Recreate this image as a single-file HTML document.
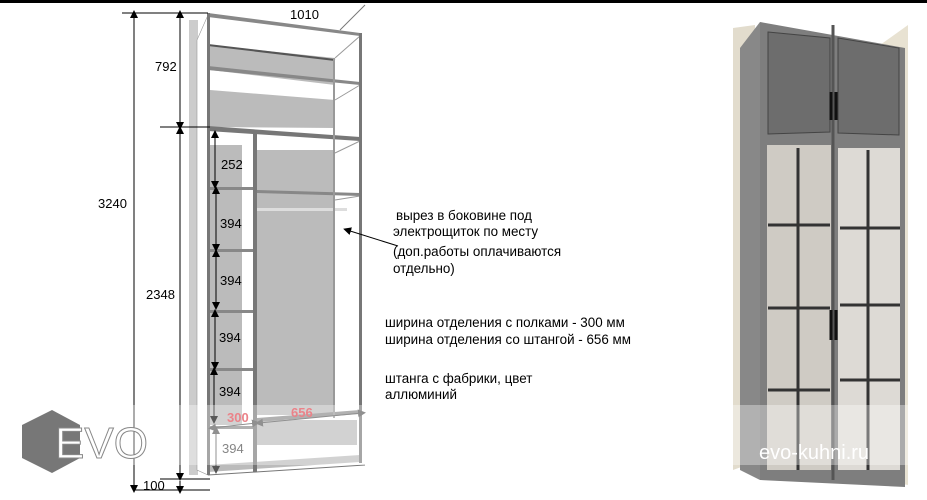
<!DOCTYPE html>
<html><head><meta charset="utf-8"><style>
html,body{margin:0;padding:0;background:#fff;}
svg{display:block;font-family:"Liberation Sans","DejaVu Sans",sans-serif;}
</style></head><body>
<svg width="927" height="500" viewBox="0 0 927 500" xmlns="http://www.w3.org/2000/svg">
<defs>
<marker id="a" markerWidth="8" markerHeight="8" refX="4" refY="4" orient="auto-start-reverse" markerUnits="userSpaceOnUse"><path d="M0,0 L8,4 L0,8 z" fill="#000"/></marker>
<marker id="ag" markerWidth="8" markerHeight="8" refX="4" refY="4" orient="auto-start-reverse" markerUnits="userSpaceOnUse"><path d="M0,0 L8,4 L0,8 z" fill="#555"/></marker>
</defs>
<rect x="0" y="0" width="927" height="3" fill="#000"/>
<!-- left wardrobe -->
<rect x="189" y="20" width="9" height="455" fill="#ccc"/>
<polygon points="197,40 208,15 208,475 197,470" fill="#fff" stroke="#999" stroke-width="0.6"/>
<polygon points="210,45 335,58 335,85 210,70" fill="#bbb"/>
<polygon points="210,90 335,100 335,128 210,127" fill="#bbb"/>
<rect x="210" y="145" width="32" height="280" fill="#bbb"/>
<rect x="257" y="150" width="77" height="265" fill="#bbb"/>
<rect x="257" y="420" width="100" height="25" fill="#bbb"/>
<polygon points="208,13 360,33 360,36 208,17" fill="#888"/>
<line x1="335" y1="58" x2="360" y2="36" stroke="#999"/>
<line x1="208" y1="45" x2="335" y2="60" stroke="#555" stroke-width="2"/>
<polygon points="208,66 360,82 360,85 208,70" fill="#888"/>
<line x1="335" y1="100" x2="360" y2="85" stroke="#999"/>
<polygon points="208,126 360,137 360,141 208,131" fill="#777"/>
<line x1="335" y1="153" x2="360" y2="141" stroke="#999"/>
<polygon points="257,190 360,193 360,196 257,193" fill="#888"/>
<line x1="335" y1="200" x2="360" y2="196" stroke="#999"/>
<rect x="257" y="208" width="90" height="3" fill="#ddd"/>
<g fill="#888">
<rect x="208" y="187" width="47" height="3"/>
<rect x="208" y="249" width="47" height="3"/>
<rect x="208" y="310" width="47" height="3"/>
<rect x="208" y="368" width="47" height="3"/>
<rect x="208" y="426" width="47" height="3"/>
</g>
<polygon points="257,418 360,410 360,414 257,422" fill="#888"/>
<polygon points="208,465 360,455 360,462 208,472" fill="#bbb"/>
<line x1="208" y1="475" x2="365" y2="465" stroke="#777"/>
<rect x="207" y="13" width="3" height="462" fill="#777"/>
<rect x="253" y="132" width="4" height="340" fill="#777"/>
<rect x="333" y="58" width="2" height="360" fill="#999"/>
<rect x="359" y="33" width="3" height="430" fill="#777"/>
<line x1="340" y1="30" x2="365" y2="5" stroke="#777"/>
<g stroke="#000" stroke-width="1">
<line x1="122" y1="13" x2="208" y2="13"/>
<line x1="160" y1="127" x2="210" y2="127"/>
<line x1="133" y1="490" x2="210" y2="490"/>
<line x1="160" y1="479" x2="210" y2="479"/>
<line x1="134" y1="14" x2="134" y2="489" marker-start="url(#a)" marker-end="url(#a)"/>
<line x1="180" y1="14" x2="180" y2="126" marker-start="url(#a)" marker-end="url(#a)"/>
<line x1="180" y1="130" x2="180" y2="477" marker-start="url(#a)" marker-end="url(#a)"/>
<line x1="180" y1="481" x2="180" y2="490" marker-end="url(#a)"/>
<line x1="215" y1="134" x2="215" y2="185" marker-start="url(#a)" marker-end="url(#a)"/>
<line x1="216" y1="190" x2="216" y2="248" marker-start="url(#a)" marker-end="url(#a)"/>
<line x1="216" y1="253" x2="216" y2="306" marker-start="url(#a)" marker-end="url(#a)"/>
<line x1="215" y1="313" x2="215" y2="366" marker-start="url(#a)" marker-end="url(#a)"/>
<line x1="214" y1="371" x2="214" y2="420" marker-start="url(#a)" marker-end="url(#a)"/>
<line x1="398" y1="246" x2="347" y2="230" marker-end="url(#a)"/>
</g>
<g stroke="#555">
<line x1="216" y1="430" x2="216" y2="470" marker-start="url(#ag)" marker-end="url(#ag)"/>
<line x1="212" y1="428" x2="256" y2="423" marker-start="url(#ag)" marker-end="url(#ag)"/>
<line x1="259" y1="423" x2="362" y2="413" marker-start="url(#ag)" marker-end="url(#ag)"/>
</g>
<g font-size="13" fill="#000">
<text x="290" y="19">1010</text>
<text x="155" y="71">792</text>
<text x="98" y="208">3240</text>
<text x="146" y="299">2348</text>
<text x="221" y="169">252</text>
<text x="220" y="228">394</text>
<text x="220" y="285">394</text>
<text x="219" y="342">394</text>
<text x="219" y="396">394</text>
<text x="222" y="453" fill="#444">394</text>
<text x="143" y="490">100</text>
<text x="227" y="422" fill="#e0404a" font-weight="bold">300</text>
<text x="291" y="417" fill="#e0404a" font-weight="bold">656</text>
</g>
<g font-size="13.4" fill="#000">
<text x="396" y="220">вырез в боковине под</text>
<text x="393" y="236">электрощиток по месту</text>
<text x="393" y="256">(доп.работы оплачиваются</text>
<text x="393" y="273">отдельно)</text>
<text x="385" y="327">ширина отделения с полками - 300 мм</text>
<text x="385" y="344">ширина отделения со штангой - 656 мм</text>
<text x="385" y="383">штанга с фабрики, цвет</text>
<text x="385" y="399">аллюминий</text>
</g>
<rect x="0" y="405" width="380" height="60" fill="#fff" opacity="0.35"/>
<polygon points="52,410 80,425 80,458 52,473 22,458 22,425" fill="#777"/>
<text x="55" y="458" font-size="44" fill="#fff" stroke="#888" stroke-width="1">EVO</text>
<!-- right photo -->
<polygon points="733,28 755,25 755,462 733,470" fill="#e2dccd"/>
<polygon points="880,45 908,25 908,485 880,480" fill="#e8e2d2"/>
<polygon points="740,48 760,22 760,480 740,470" fill="#888"/>
<polygon points="760,22 905,48 905,487 760,480" fill="#7e7e7e"/>
<polygon points="768,32 830,38 830,132 768,134" fill="#6d6d6d" stroke="#444"/>
<polygon points="838,38 899,48 899,135 838,133" fill="#6d6d6d" stroke="#444"/>
<rect x="767" y="145" width="64" height="325" fill="#cfcbc4"/>
<rect x="838" y="148" width="62" height="322" fill="#dddad5"/>
<g stroke="#333" stroke-width="3">
<line x1="768" y1="225" x2="830" y2="225"/><line x1="768" y1="308" x2="830" y2="308"/><line x1="768" y1="390" x2="830" y2="390"/>
<line x1="840" y1="228" x2="900" y2="228"/><line x1="840" y1="305" x2="900" y2="305"/><line x1="840" y1="380" x2="900" y2="380"/>
<line x1="798" y1="148" x2="798" y2="470"/><line x1="868" y1="150" x2="868" y2="470"/>
<line x1="833" y1="25" x2="833" y2="480" stroke="#555"/>
<line x1="831" y1="92" x2="831" y2="120" stroke="#111"/><line x1="836" y1="92" x2="836" y2="120" stroke="#111"/>
<line x1="831" y1="310" x2="831" y2="340" stroke="#111"/><line x1="836" y1="310" x2="836" y2="340" stroke="#111"/>
</g>
<rect x="733" y="405" width="175" height="60" fill="#fff" opacity="0.35"/>
<text x="759" y="459" font-size="20" fill="#fff">evo-kuhni.ru</text>
</svg>
</body></html>
